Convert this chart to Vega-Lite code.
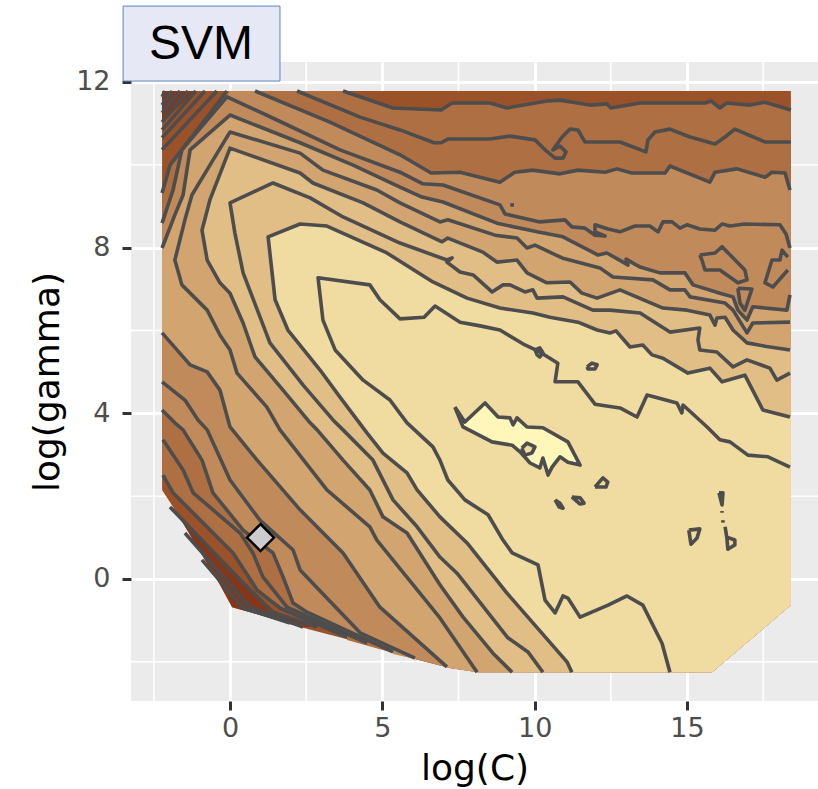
{"$schema":"https://vega.github.io/schema/vega-lite/v6.json","width":687,"height":639,"autosize":"none","padding":{"left":131,"top":62,"right":0,"bottom":88},"background":"white","view":{"fill":"#EBEBEB","stroke":null},
"config":{"axis":{"grid":true,"gridColor":"white","gridWidth":3,"domain":false,"tickColor":"#333333","tickWidth":3,"tickSize":9,"labelColor":"#4D4D4D","labelFont":"DejaVu Sans","labelFontSize":27,"titleFont":"DejaVu Sans","titleFontSize":36,"titleFontWeight":"normal","titleColor":"black"}},
"encoding":{"x":{"field":"x","type":"quantitative","scale":{"domain":[-3.25,19.3],"nice":false,"zero":false},"axis":{"values":[0,5,10,15],"title":"log(C)","labelPadding":5,"titlePadding":10}},"y":{"field":"y","type":"quantitative","scale":{"domain":[-2.945,12.48],"nice":false,"zero":false},"axis":{"values":[0,4,8,12],"title":"log(gamma)","labelPadding":12,"titlePadding":9}}},
"datasets":{"contours":[
{"p":"P0","s":"e","x":-2.23,"y":11.78},{"p":"P0","s":"e","x":18.41,"y":11.78},{"p":"P0","s":"e","x":18.41,"y":-0.63},{"p":"P0","s":"e","x":15.82,"y":-2.25},{"p":"P0","s":"e","x":8.14,"y":-2.25},{"p":"P0","s":"e","x":7.22,"y":-2.15},{"p":"P0","s":"e","x":6.07,"y":-1.93},{"p":"P0","s":"e","x":3.94,"y":-1.47},{"p":"P0","s":"e","x":2.3,"y":-1.16},{"p":"P0","s":"e","x":0.66,"y":-0.8},{"p":"P0","s":"e","x":0.07,"y":-0.68},{"p":"P0","s":"e","x":-0.33,"y":-0.14},{"p":"P0","s":"e","x":-0.82,"y":0.46},{"p":"P0","s":"e","x":-1.31,"y":1.06},{"p":"P0","s":"e","x":-1.81,"y":1.67},{"p":"P0","s":"e","x":-2.23,"y":2.15},
{"p":"H","s":"e","x":-2.23,"y":11.78},{"p":"H","s":"e","x":-1.12,"y":11.78},{"p":"H","s":"e","x":-2.23,"y":11.03},
{"p":"P10","s":"C10","x":3.71,"y":11.78},{"p":"P10","s":"C10","x":5.35,"y":11.37},{"p":"P10","s":"C10","x":6.93,"y":11.32},{"p":"P10","s":"C10","x":7.29,"y":11.49},{"p":"P10","s":"C10","x":8.53,"y":11.49},{"p":"P10","s":"C10","x":9.09,"y":11.37},{"p":"P10","s":"C10","x":10.4,"y":11.54},{"p":"P10","s":"C10","x":10.83,"y":11.56},{"p":"P10","s":"C10","x":11.82,"y":11.44},{"p":"P10","s":"C10","x":12.37,"y":11.47},{"p":"P10","s":"C10","x":12.5,"y":11.37},{"p":"P10","s":"C10","x":13.46,"y":11.49},{"p":"P10","s":"C10","x":15.59,"y":11.49},{"p":"P10","s":"C10","x":15.79,"y":11.54},{"p":"P10","s":"C10","x":16.08,"y":11.37},{"p":"P10","s":"C10","x":16.31,"y":11.49},{"p":"P10","s":"C10","x":17.07,"y":11.44},{"p":"P10","s":"C10","x":17.56,"y":11.51},{"p":"P10","s":"C10","x":18.41,"y":11.32},
{"p":"P10","s":"e","x":18.41,"y":-0.63},{"p":"P10","s":"e","x":15.82,"y":-2.25},{"p":"P10","s":"e","x":8.14,"y":-2.25},{"p":"P10","s":"e","x":7.22,"y":-2.15},{"p":"P10","s":"e","x":6.07,"y":-1.93},{"p":"P10","s":"e","x":3.84,"y":-1.47},
{"p":"P10","s":"C10b","x":3.84,"y":-1.4},{"p":"P10","s":"C10b","x":1.64,"y":-0.7},{"p":"P10","s":"C10b","x":0.89,"y":-0.27},{"p":"P10","s":"C10b","x":0.1,"y":0.63},{"p":"P10","s":"C10b","x":-1.87,"y":2.08},{"p":"P10","s":"C10b","x":-2.2,"y":2.51},
{"p":"P10","s":"e","x":-2.23,"y":2.51},{"p":"P10","s":"e","x":-2.23,"y":9.32},{"p":"P10","s":"e","x":-1.97,"y":9.99},{"p":"P10","s":"e","x":-0.1,"y":11.78},
{"p":"P8","s":"C8","x":0.82,"y":11.78},{"p":"P8","s":"C8","x":3.28,"y":11.03},{"p":"P8","s":"C8","x":5.58,"y":10.24},{"p":"P8","s":"C8","x":6.6,"y":9.8},{"p":"P8","s":"C8","x":7.55,"y":9.82},{"p":"P8","s":"C8","x":8.86,"y":9.58},{"p":"P8","s":"C8","x":9.35,"y":9.82},{"p":"P8","s":"C8","x":9.94,"y":9.87},{"p":"P8","s":"C8","x":10.83,"y":9.78},{"p":"P8","s":"C8","x":11.42,"y":9.87},{"p":"P8","s":"C8","x":12.31,"y":9.82},{"p":"P8","s":"C8","x":12.7,"y":9.9},{"p":"P8","s":"C8","x":13.19,"y":9.8},{"p":"P8","s":"C8","x":14.28,"y":9.8},{"p":"P8","s":"C8","x":14.44,"y":9.97},{"p":"P8","s":"C8","x":15.75,"y":9.58},{"p":"P8","s":"C8","x":15.92,"y":9.82},{"p":"P8","s":"C8","x":16.64,"y":9.9},{"p":"P8","s":"C8","x":17.56,"y":9.7},{"p":"P8","s":"C8","x":17.79,"y":9.82},{"p":"P8","s":"C8","x":18.22,"y":9.8},{"p":"P8","s":"C8","x":18.38,"y":9.39},
{"p":"P8","s":"e","x":18.41,"y":9.39},{"p":"P8","s":"e","x":18.41,"y":-0.63},{"p":"P8","s":"e","x":15.82,"y":-2.25},{"p":"P8","s":"e","x":8.14,"y":-2.25},{"p":"P8","s":"e","x":7.22,"y":-2.15},{"p":"P8","s":"e","x":6.07,"y":-1.93},{"p":"P8","s":"e","x":5.35,"y":-1.81},
{"p":"P8","s":"C8b","x":5.35,"y":-1.76},{"p":"P8","s":"C8b","x":2.53,"y":-0.8},{"p":"P8","s":"C8b","x":2.07,"y":-0.58},{"p":"P8","s":"C8b","x":1.74,"y":0.05},{"p":"P8","s":"C8b","x":1.41,"y":0.63},{"p":"P8","s":"C8b","x":0.43,"y":1.18},{"p":"P8","s":"C8b","x":-0.56,"y":2.08},{"p":"P8","s":"C8b","x":-0.92,"y":2.87},{"p":"P8","s":"C8b","x":-1.54,"y":3.6},{"p":"P8","s":"C8b","x":-1.81,"y":3.77},{"p":"P8","s":"C8b","x":-2.23,"y":4.08},
{"p":"P8","s":"e","x":-2.23,"y":8.59},{"p":"P8","s":"e","x":-1.87,"y":9.39},{"p":"P8","s":"e","x":-1.58,"y":10.36},{"p":"P8","s":"e","x":-0.1,"y":11.64},{"p":"P8","s":"e","x":0,"y":11.78},
{"p":"P6","s":"C6","x":-2.23,"y":7.99},{"p":"P6","s":"C6","x":-1.81,"y":8.79},{"p":"P6","s":"C6","x":-1.54,"y":9.27},{"p":"P6","s":"C6","x":-1.31,"y":10.36},{"p":"P6","s":"C6","x":0,"y":11.2},{"p":"P6","s":"C6","x":2.3,"y":10.53},{"p":"P6","s":"C6","x":4.04,"y":9.99},{"p":"P6","s":"C6","x":5.58,"y":9.46},{"p":"P6","s":"C6","x":6.3,"y":9.22},{"p":"P6","s":"C6","x":6.99,"y":9.1},{"p":"P6","s":"C6","x":8.76,"y":8.59},{"p":"P6","s":"C6","x":10.08,"y":8.38},{"p":"P6","s":"C6","x":10.93,"y":8.26},{"p":"P6","s":"C6","x":12.08,"y":7.82},{"p":"P6","s":"C6","x":12.37,"y":7.87},{"p":"P6","s":"C6","x":12.9,"y":7.65},{"p":"P6","s":"C6","x":13.06,"y":7.58},{"p":"P6","s":"C6","x":13,"y":7.72},{"p":"P6","s":"C6","x":13.46,"y":7.53},{"p":"P6","s":"C6","x":14.11,"y":7.39},{"p":"P6","s":"C6","x":14.93,"y":7.39},{"p":"P6","s":"C6","x":15.2,"y":7.1},{"p":"P6","s":"C6","x":16.08,"y":6.9},{"p":"P6","s":"C6","x":16.51,"y":6.81},{"p":"P6","s":"C6","x":16.67,"y":6.49},{"p":"P6","s":"C6","x":16.97,"y":6.25},{"p":"P6","s":"C6","x":17.16,"y":6.57},{"p":"P6","s":"C6","x":18.28,"y":6.49},{"p":"P6","s":"C6","x":18.38,"y":6.86},
{"p":"P6","s":"e","x":18.41,"y":6.86},{"p":"P6","s":"e","x":18.41,"y":-0.63},{"p":"P6","s":"e","x":15.82,"y":-2.25},{"p":"P6","s":"e","x":8.14,"y":-2.25},{"p":"P6","s":"e","x":7.22,"y":-2.15},
{"p":"P6","s":"C6b","x":7.12,"y":-2.12},{"p":"P6","s":"C6b","x":4.92,"y":-0.68},{"p":"P6","s":"C6b","x":3.71,"y":0.63},{"p":"P6","s":"C6b","x":2.3,"y":1.67},{"p":"P6","s":"C6b","x":0.89,"y":2.87},{"p":"P6","s":"C6b","x":0,"y":3.67},{"p":"P6","s":"C6b","x":-0.33,"y":4.56},{"p":"P6","s":"C6b","x":-0.75,"y":5},{"p":"P6","s":"C6b","x":-1.31,"y":5.17},{"p":"P6","s":"C6b","x":-2.23,"y":5.94},
{"p":"P4","s":"C4","x":9.26,"y":-2.25},{"p":"P4","s":"C4","x":8.63,"y":-1.79},{"p":"P4","s":"C4","x":7.65,"y":-0.92},{"p":"P4","s":"C4","x":6.89,"y":-0.14},{"p":"P4","s":"C4","x":5.81,"y":1.11},{"p":"P4","s":"C4","x":5.02,"y":1.5},{"p":"P4","s":"C4","x":4.59,"y":2.15},{"p":"P4","s":"C4","x":3.71,"y":2.87},{"p":"P4","s":"C4","x":2.86,"y":3.6},{"p":"P4","s":"C4","x":2.63,"y":3.77},{"p":"P4","s":"C4","x":1.74,"y":4.56},{"p":"P4","s":"C4","x":0.82,"y":5.36},{"p":"P4","s":"C4","x":0.43,"y":6.18},{"p":"P4","s":"C4","x":0,"y":6.9},{"p":"P4","s":"C4","x":-0.33,"y":7.15},{"p":"P4","s":"C4","x":-0.75,"y":7.7},{"p":"P4","s":"C4","x":-0.92,"y":8.42},{"p":"P4","s":"C4","x":-0.66,"y":9.15},{"p":"P4","s":"C4","x":0,"y":10.4},{"p":"P4","s":"C4","x":2.3,"y":9.8},{"p":"P4","s":"C4","x":2.72,"y":9.56},{"p":"P4","s":"C4","x":4.37,"y":9.08},{"p":"P4","s":"C4","x":5.58,"y":8.62},{"p":"P4","s":"C4","x":6.96,"y":8.14},{"p":"P4","s":"C4","x":7.15,"y":8.23},{"p":"P4","s":"C4","x":8.3,"y":7.89},{"p":"P4","s":"C4","x":8.76,"y":7.65},{"p":"P4","s":"C4","x":9.42,"y":7.7},{"p":"P4","s":"C4","x":9.75,"y":7.39},{"p":"P4","s":"C4","x":10.4,"y":7.15},{"p":"P4","s":"C4","x":11.16,"y":7.17},{"p":"P4","s":"C4","x":11.55,"y":6.9},{"p":"P4","s":"C4","x":12.05,"y":6.78},{"p":"P4","s":"C4","x":12.8,"y":6.98},{"p":"P4","s":"C4","x":14.21,"y":6.54},{"p":"P4","s":"C4","x":15,"y":6.49},{"p":"P4","s":"C4","x":15.75,"y":6.37},{"p":"P4","s":"C4","x":15.92,"y":6.13},{"p":"P4","s":"C4","x":15.98,"y":6.3},{"p":"P4","s":"C4","x":16.25,"y":6.32},{"p":"P4","s":"C4","x":16.51,"y":6.01},{"p":"P4","s":"C4","x":16.97,"y":5.7},{"p":"P4","s":"C4","x":17.56,"y":5.62},{"p":"P4","s":"C4","x":18.38,"y":5.53},
{"p":"P4","s":"e","x":18.41,"y":5.53},{"p":"P4","s":"e","x":18.41,"y":-0.63},{"p":"P4","s":"e","x":15.82,"y":-2.25},
{"p":"P2","s":"C2","x":11.22,"y":-2.25},{"p":"P2","s":"C2","x":11.06,"y":-2},{"p":"P2","s":"C2","x":9.09,"y":-0.34},{"p":"P2","s":"C2","x":7.78,"y":0.87},{"p":"P2","s":"C2","x":6.89,"y":1.5},{"p":"P2","s":"C2","x":6.14,"y":2.15},{"p":"P2","s":"C2","x":5.81,"y":2.56},{"p":"P2","s":"C2","x":5.02,"y":3.04},{"p":"P2","s":"C2","x":4.5,"y":3.52},{"p":"P2","s":"C2","x":3.61,"y":4.39},{"p":"P2","s":"C2","x":2.95,"y":5.05},{"p":"P2","s":"C2","x":1.9,"y":6.01},{"p":"P2","s":"C2","x":1.48,"y":6.74},{"p":"P2","s":"C2","x":1.25,"y":8.26},{"p":"P2","s":"C2","x":2.3,"y":8.57},{"p":"P2","s":"C2","x":3.18,"y":8.52},{"p":"P2","s":"C2","x":5.15,"y":7.87},{"p":"P2","s":"C2","x":6.66,"y":7.17},{"p":"P2","s":"C2","x":7.78,"y":6.78},{"p":"P2","s":"C2","x":8.86,"y":6.54},{"p":"P2","s":"C2","x":9.94,"y":6.42},{"p":"P2","s":"C2","x":10.5,"y":6.32},{"p":"P2","s":"C2","x":11.42,"y":6.2},{"p":"P2","s":"C2","x":12.05,"y":6.01},{"p":"P2","s":"C2","x":12.47,"y":5.94},{"p":"P2","s":"C2","x":12.67,"y":5.99},{"p":"P2","s":"C2","x":13.13,"y":5.6},{"p":"P2","s":"C2","x":13.55,"y":5.65},{"p":"P2","s":"C2","x":13.85,"y":5.41},{"p":"P2","s":"C2","x":14.21,"y":5.33},{"p":"P2","s":"C2","x":15.03,"y":4.97},{"p":"P2","s":"C2","x":15.75,"y":5.09},{"p":"P2","s":"C2","x":16.15,"y":4.76},{"p":"P2","s":"C2","x":16.9,"y":4.92},{"p":"P2","s":"C2","x":17.49,"y":4.08},{"p":"P2","s":"C2","x":18.38,"y":3.91},
{"p":"P2","s":"e","x":18.41,"y":3.91},{"p":"P2","s":"e","x":18.41,"y":-0.63},{"p":"P2","s":"e","x":15.82,"y":-2.25},
{"p":"Dk","s":"C11","x":-1.97,"y":1.74},{"p":"Dk","s":"C11","x":0.33,"y":-0.02},{"p":"Dk","s":"C11","x":1.41,"y":-0.8},{"p":"Dk","s":"C11","x":2.86,"y":-1.16},
{"p":"Dk","s":"e","x":2.3,"y":-1.16},{"p":"Dk","s":"e","x":0.66,"y":-0.8},{"p":"Dk","s":"e","x":0.07,"y":-0.68},{"p":"Dk","s":"e","x":-0.33,"y":-0.14},{"p":"Dk","s":"e","x":-0.82,"y":0.46},{"p":"Dk","s":"e","x":-1.31,"y":1.06},{"p":"Dk","s":"e","x":-1.81,"y":1.67},
{"p":"I0","s":"C0","x":7.38,"y":4.15},{"p":"I0","s":"C0","x":7.71,"y":3.79},{"p":"I0","s":"C0","x":8.37,"y":4.25},{"p":"I0","s":"C0","x":8.8,"y":3.91},{"p":"I0","s":"C0","x":9.19,"y":3.89},{"p":"I0","s":"C0","x":9.29,"y":3.72},{"p":"I0","s":"C0","x":9.42,"y":3.89},{"p":"I0","s":"C0","x":9.75,"y":3.67},{"p":"I0","s":"C0","x":10.27,"y":3.65},{"p":"I0","s":"C0","x":11.09,"y":3.31},{"p":"I0","s":"C0","x":11.49,"y":2.75},{"p":"I0","s":"C0","x":11.09,"y":2.82},{"p":"I0","s":"C0","x":10.83,"y":2.95},{"p":"I0","s":"C0","x":10.57,"y":2.7},{"p":"I0","s":"C0","x":10.44,"y":2.51},{"p":"I0","s":"C0","x":10.27,"y":2.92},{"p":"I0","s":"C0","x":10.17,"y":2.68},{"p":"I0","s":"C0","x":9.85,"y":2.8},{"p":"I0","s":"C0","x":9.52,"y":3.07},{"p":"I0","s":"C0","x":9.26,"y":3.23},{"p":"I0","s":"C0","x":8.6,"y":3.31},{"p":"I0","s":"C0","x":7.65,"y":3.67},{"p":"I0","s":"C0","x":7.38,"y":4.15},
{"p":"I1","s":"C0i","x":9.58,"y":3.16},{"p":"I1","s":"C0i","x":9.75,"y":3.28},{"p":"I1","s":"C0i","x":10.01,"y":3.19},{"p":"I1","s":"C0i","x":9.91,"y":3.04},{"p":"I1","s":"C0i","x":9.68,"y":2.99},{"p":"I1","s":"C0i","x":9.58,"y":3.16},
{"p":"none","s":"C1","x":14.44,"y":-2.25},{"p":"none","s":"C1","x":14.18,"y":-1.55},{"p":"none","s":"C1","x":13.55,"y":-0.63},{"p":"none","s":"C1","x":13.03,"y":-0.41},{"p":"none","s":"C1","x":12.41,"y":-0.63},{"p":"none","s":"C1","x":11.49,"y":-0.92},{"p":"none","s":"C1","x":11.09,"y":-0.46},{"p":"none","s":"C1","x":10.93,"y":-0.41},{"p":"none","s":"C1","x":10.67,"y":-0.82},{"p":"none","s":"C1","x":10.34,"y":-0.51},{"p":"none","s":"C1","x":10.11,"y":0.34},{"p":"none","s":"C1","x":9.26,"y":0.63},{"p":"none","s":"C1","x":8.96,"y":0.94},{"p":"none","s":"C1","x":8.47,"y":1.55},{"p":"none","s":"C1","x":7.71,"y":1.91},{"p":"none","s":"C1","x":7.15,"y":2.39},{"p":"none","s":"C1","x":6.89,"y":2.87},{"p":"none","s":"C1","x":6.66,"y":3.19},{"p":"none","s":"C1","x":5.81,"y":3.77},{"p":"none","s":"C1","x":5.25,"y":4.32},{"p":"none","s":"C1","x":4.37,"y":4.8},{"p":"none","s":"C1","x":3.45,"y":5.53},{"p":"none","s":"C1","x":3.05,"y":6.25},{"p":"none","s":"C1","x":2.89,"y":7.27},{"p":"none","s":"C1","x":4.59,"y":7.1},{"p":"none","s":"C1","x":4.92,"y":6.74},{"p":"none","s":"C1","x":5.58,"y":6.28},{"p":"none","s":"C1","x":6.37,"y":6.32},{"p":"none","s":"C1","x":6.73,"y":6.59},{"p":"none","s":"C1","x":7.55,"y":6.2},{"p":"none","s":"C1","x":8.21,"y":6.11},{"p":"none","s":"C1","x":8.86,"y":6.01},{"p":"none","s":"C1","x":9.68,"y":5.65},{"p":"none","s":"C1","x":10.17,"y":5.48},{"p":"none","s":"C1","x":10.76,"y":5.21},{"p":"none","s":"C1","x":10.67,"y":4.76},{"p":"none","s":"C1","x":11.42,"y":4.76},{"p":"none","s":"C1","x":11.98,"y":4.22},{"p":"none","s":"C1","x":12.8,"y":4.13},{"p":"none","s":"C1","x":13.36,"y":3.91},{"p":"none","s":"C1","x":13.69,"y":4.44},{"p":"none","s":"C1","x":14.67,"y":4.25},{"p":"none","s":"C1","x":14.83,"y":4.01},{"p":"none","s":"C1","x":14.87,"y":4.2},{"p":"none","s":"C1","x":15.66,"y":3.67},{"p":"none","s":"C1","x":16.08,"y":3.36},{"p":"none","s":"C1","x":16.41,"y":3.31},{"p":"none","s":"C1","x":17,"y":2.99},{"p":"none","s":"C1","x":17.66,"y":2.95},{"p":"none","s":"C1","x":18.38,"y":2.7},
{"p":"none","s":"C3","x":10.27,"y":-2.25},{"p":"none","s":"C3","x":9.78,"y":-1.76},{"p":"none","s":"C3","x":9.12,"y":-1.42},{"p":"none","s":"C3","x":7.45,"y":0.14},{"p":"none","s":"C3","x":6.89,"y":0.53},{"p":"none","s":"C3","x":6.14,"y":1.26},{"p":"none","s":"C3","x":5.35,"y":1.91},{"p":"none","s":"C3","x":4.69,"y":2.87},{"p":"none","s":"C3","x":3.71,"y":3.6},{"p":"none","s":"C3","x":3.38,"y":3.84},{"p":"none","s":"C3","x":2.4,"y":4.68},{"p":"none","s":"C3","x":1.31,"y":5.7},{"p":"none","s":"C3","x":0.43,"y":7.39},{"p":"none","s":"C3","x":0.16,"y":8.35},{"p":"none","s":"C3","x":0,"y":9.08},{"p":"none","s":"C3","x":1.41,"y":9.56},{"p":"none","s":"C3","x":2.63,"y":9.2},{"p":"none","s":"C3","x":3.71,"y":8.74},{"p":"none","s":"C3","x":5.58,"y":8.11},{"p":"none","s":"C3","x":7.12,"y":7.7},{"p":"none","s":"C3","x":7.29,"y":7.75},{"p":"none","s":"C3","x":7.12,"y":7.65},{"p":"none","s":"C3","x":7.55,"y":7.41},{"p":"none","s":"C3","x":7.98,"y":7.34},{"p":"none","s":"C3","x":8.6,"y":6.93},{"p":"none","s":"C3","x":8.96,"y":7.1},{"p":"none","s":"C3","x":9.19,"y":7.1},{"p":"none","s":"C3","x":9.68,"y":6.93},{"p":"none","s":"C3","x":9.94,"y":6.98},{"p":"none","s":"C3","x":10.08,"y":6.78},{"p":"none","s":"C3","x":10.93,"y":6.81},{"p":"none","s":"C3","x":11.91,"y":6.49},{"p":"none","s":"C3","x":12.47,"y":6.49},{"p":"none","s":"C3","x":13.46,"y":6.42},{"p":"none","s":"C3","x":14.44,"y":5.96},{"p":"none","s":"C3","x":15.42,"y":6.06},{"p":"none","s":"C3","x":15.36,"y":5.77},{"p":"none","s":"C3","x":15.42,"y":5.53},{"p":"none","s":"C3","x":15.98,"y":5.48},{"p":"none","s":"C3","x":16.51,"y":5.12},{"p":"none","s":"C3","x":16.97,"y":5.29},{"p":"none","s":"C3","x":17.72,"y":5.09},{"p":"none","s":"C3","x":17.95,"y":4.8},{"p":"none","s":"C3","x":18.38,"y":4.97},
{"p":"none","s":"C5","x":8.11,"y":-2.25},{"p":"none","s":"C5","x":6.89,"y":-0.94},{"p":"none","s":"C5","x":4.82,"y":0.94},{"p":"none","s":"C5","x":4.59,"y":1.26},{"p":"none","s":"C5","x":3.18,"y":2.15},{"p":"none","s":"C5","x":1.64,"y":3.6},{"p":"none","s":"C5","x":1.21,"y":4.15},{"p":"none","s":"C5","x":0.23,"y":4.97},{"p":"none","s":"C5","x":0,"y":5.53},{"p":"none","s":"C5","x":-0.33,"y":5.89},{"p":"none","s":"C5","x":-0.75,"y":6.49},{"p":"none","s":"C5","x":-1.58,"y":7.1},{"p":"none","s":"C5","x":-1.81,"y":7.7},{"p":"none","s":"C5","x":-1.48,"y":8.67},{"p":"none","s":"C5","x":-1.25,"y":9.27},{"p":"none","s":"C5","x":-0.56,"y":10.11},{"p":"none","s":"C5","x":0,"y":10.79},{"p":"none","s":"C5","x":2.3,"y":10.28},{"p":"none","s":"C5","x":3.05,"y":9.87},{"p":"none","s":"C5","x":4.82,"y":9.39},{"p":"none","s":"C5","x":5.58,"y":9.08},{"p":"none","s":"C5","x":6.89,"y":8.62},{"p":"none","s":"C5","x":7.15,"y":8.67},{"p":"none","s":"C5","x":8.7,"y":8.3},{"p":"none","s":"C5","x":9.42,"y":8.23},{"p":"none","s":"C5","x":9.75,"y":7.99},{"p":"none","s":"C5","x":10.01,"y":8.06},{"p":"none","s":"C5","x":10.9,"y":7.75},{"p":"none","s":"C5","x":12.14,"y":7.51},{"p":"none","s":"C5","x":12.57,"y":7.29},{"p":"none","s":"C5","x":13.88,"y":7.22},{"p":"none","s":"C5","x":14.44,"y":6.98},{"p":"none","s":"C5","x":14.93,"y":6.98},{"p":"none","s":"C5","x":15.1,"y":6.81},{"p":"none","s":"C5","x":16.25,"y":6.66},{"p":"none","s":"C5","x":16.51,"y":6.49},{"p":"none","s":"C5","x":16.97,"y":5.94},{"p":"none","s":"C5","x":17.16,"y":6.18},{"p":"none","s":"C5","x":18.38,"y":6.2},
{"p":"none","s":"C7","x":-2.23,"y":8.59},{"p":"none","s":"C7","x":-1.87,"y":9.39},{"p":"none","s":"C7","x":-1.58,"y":10.36},{"p":"none","s":"C7","x":-0.1,"y":11.64},{"p":"none","s":"C7","x":1.54,"y":11.08},{"p":"none","s":"C7","x":3.61,"y":10.36},{"p":"none","s":"C7","x":5.58,"y":9.82},{"p":"none","s":"C7","x":6.33,"y":9.54},{"p":"none","s":"C7","x":6.99,"y":9.51},{"p":"none","s":"C7","x":8.86,"y":9.03},{"p":"none","s":"C7","x":9.03,"y":8.81},{"p":"none","s":"C7","x":10.17,"y":8.62},{"p":"none","s":"C7","x":10.99,"y":8.67},{"p":"none","s":"C7","x":11.22,"y":8.5},{"p":"none","s":"C7","x":11.65,"y":8.47},{"p":"none","s":"C7","x":11.98,"y":8.3},{"p":"none","s":"C7","x":12.31,"y":8.28},{"p":"none","s":"C7","x":11.98,"y":8.38},{"p":"none","s":"C7","x":11.98,"y":8.55},{"p":"none","s":"C7","x":12.41,"y":8.45},{"p":"none","s":"C7","x":12.8,"y":8.38},{"p":"none","s":"C7","x":13.29,"y":8.52},{"p":"none","s":"C7","x":13.78,"y":8.52},{"p":"none","s":"C7","x":14.05,"y":8.38},{"p":"none","s":"C7","x":14.21,"y":8.62},{"p":"none","s":"C7","x":14.51,"y":8.62},{"p":"none","s":"C7","x":14.77,"y":8.47},{"p":"none","s":"C7","x":15,"y":8.55},{"p":"none","s":"C7","x":15.42,"y":8.45},{"p":"none","s":"C7","x":15.92,"y":8.42},{"p":"none","s":"C7","x":16.15,"y":8.57},{"p":"none","s":"C7","x":16.41,"y":8.52},{"p":"none","s":"C7","x":16.9,"y":8.57},{"p":"none","s":"C7","x":18.05,"y":8.55},{"p":"none","s":"C7","x":18.25,"y":8.33},{"p":"none","s":"C7","x":18.38,"y":7.99},
{"p":"none","s":"C7b","x":-2.23,"y":4.76},{"p":"none","s":"C7b","x":-1.48,"y":4.32},{"p":"none","s":"C7b","x":-1.05,"y":3.84},{"p":"none","s":"C7b","x":-0.75,"y":3.6},{"p":"none","s":"C7b","x":0,"y":2.39},{"p":"none","s":"C7b","x":0.98,"y":1.42},{"p":"none","s":"C7b","x":2.07,"y":0.7},{"p":"none","s":"C7b","x":2.3,"y":0.22},{"p":"none","s":"C7b","x":4.27,"y":-1.3},{"p":"none","s":"C7b","x":6.07,"y":-1.91},
{"p":"none","s":"C9","x":2.2,"y":11.78},{"p":"none","s":"C9","x":4.27,"y":11.15},{"p":"none","s":"C9","x":5.58,"y":10.84},{"p":"none","s":"C9","x":6.7,"y":10.53},{"p":"none","s":"C9","x":6.93,"y":10.53},{"p":"none","s":"C9","x":7.15,"y":10.62},{"p":"none","s":"C9","x":8.53,"y":10.62},{"p":"none","s":"C9","x":9.19,"y":10.69},{"p":"none","s":"C9","x":10.01,"y":10.6},{"p":"none","s":"C9","x":10.34,"y":10.36},{"p":"none","s":"C9","x":10.67,"y":10.16},{"p":"none","s":"C9","x":10.93,"y":10.16},{"p":"none","s":"C9","x":11.03,"y":10.31},{"p":"none","s":"C9","x":10.83,"y":10.45},{"p":"none","s":"C9","x":10.6,"y":10.36},{"p":"none","s":"C9","x":10.9,"y":10.67},{"p":"none","s":"C9","x":11.16,"y":10.86},{"p":"none","s":"C9","x":11.42,"y":10.84},{"p":"none","s":"C9","x":11.65,"y":10.55},{"p":"none","s":"C9","x":12.8,"y":10.55},{"p":"none","s":"C9","x":13.65,"y":10.31},{"p":"none","s":"C9","x":13.72,"y":10.6},{"p":"none","s":"C9","x":13.95,"y":10.79},{"p":"none","s":"C9","x":14.44,"y":10.86},{"p":"none","s":"C9","x":15.1,"y":10.67},{"p":"none","s":"C9","x":15.92,"y":10.5},{"p":"none","s":"C9","x":16.25,"y":10.67},{"p":"none","s":"C9","x":16.57,"y":10.86},{"p":"none","s":"C9","x":17.56,"y":10.55},{"p":"none","s":"C9","x":18.41,"y":10.55},
{"p":"none","s":"C9b","x":-2.2,"y":3.36},{"p":"none","s":"C9b","x":-1.54,"y":2.63},{"p":"none","s":"C9b","x":-1.21,"y":2.08},{"p":"none","s":"C9b","x":0.33,"y":1.11},{"p":"none","s":"C9b","x":0.75,"y":0.63},{"p":"none","s":"C9b","x":1.08,"y":0.05},{"p":"none","s":"C9b","x":1.87,"y":-0.68},{"p":"none","s":"C9b","x":2.3,"y":-0.82},{"p":"none","s":"C9b","x":4.5,"y":-1.55},
{"p":"none","s":"C12","x":-1.48,"y":1.11},{"p":"none","s":"C12","x":0.66,"y":-0.68},{"p":"none","s":"C12","x":2.4,"y":-1.16},
{"p":"none","s":"C13","x":-0.92,"y":0.46},{"p":"none","s":"C13","x":0.43,"y":-0.7},{"p":"none","s":"C13","x":1.97,"y":-1.06},
{"p":"none","s":"H1","x":-2.13,"y":11.78},{"p":"none","s":"H1","x":-2.23,"y":11.64},{"p":"none","s":"H2","x":-1.9,"y":11.78},{"p":"none","s":"H2","x":-2.23,"y":11.44},{"p":"none","s":"H3","x":-1.64,"y":11.78},{"p":"none","s":"H3","x":-2.23,"y":11.25},{"p":"none","s":"H4","x":-1.38,"y":11.78},{"p":"none","s":"H4","x":-2.23,"y":11.03},{"p":"none","s":"H5","x":-1.12,"y":11.78},{"p":"none","s":"H5","x":-2.23,"y":10.84},{"p":"none","s":"H6","x":-0.82,"y":11.78},{"p":"none","s":"H6","x":-2.23,"y":10.65},{"p":"none","s":"H7","x":-0.43,"y":11.78},{"p":"none","s":"H7","x":-2.23,"y":10.36},{"p":"none","s":"H8","x":-0.1,"y":11.78},{"p":"none","s":"H8","x":-1.97,"y":9.99},{"p":"none","s":"H8","x":-2.23,"y":9.32},
{"p":"none","s":"A","x":15.42,"y":7.82},{"p":"none","s":"A","x":15.92,"y":7.87},{"p":"none","s":"A","x":16.15,"y":8.02},{"p":"none","s":"A","x":16.9,"y":7.46},{"p":"none","s":"A","x":16.97,"y":7.22},{"p":"none","s":"A","x":16.67,"y":7.15},{"p":"none","s":"A","x":16.08,"y":7.46},{"p":"none","s":"A","x":15.59,"y":7.46},{"p":"none","s":"A","x":15.49,"y":7.7},{"p":"none","s":"A","x":15.42,"y":7.82},
{"p":"none","s":"T","x":16.67,"y":7.02},{"p":"none","s":"T","x":17.13,"y":7},{"p":"none","s":"T","x":16.9,"y":6.49},{"p":"none","s":"T","x":16.74,"y":6.66},{"p":"none","s":"T","x":16.67,"y":7.02},
{"p":"none","s":"R","x":18.31,"y":7.77},{"p":"none","s":"R","x":18.12,"y":7.94},{"p":"none","s":"R","x":18.05,"y":7.7},{"p":"none","s":"R","x":17.79,"y":7.7},{"p":"none","s":"R","x":17.56,"y":7.15},{"p":"none","s":"R","x":17.82,"y":7.05},{"p":"none","s":"R","x":18.31,"y":7.46},
{"p":"none","s":"b0","x":9.2,"y":9.03},{"p":"none","s":"b0","x":9.32,"y":9.03},
{"p":"none","s":"b1","x":10.01,"y":5.53},{"p":"none","s":"b1","x":10.17,"y":5.58},{"p":"none","s":"b1","x":10.27,"y":5.46},{"p":"none","s":"b1","x":10.17,"y":5.36},{"p":"none","s":"b1","x":10.08,"y":5.41},{"p":"none","s":"b1","x":10.01,"y":5.53},
{"p":"none","s":"a","x":11.98,"y":2.22},{"p":"none","s":"a","x":12.24,"y":2.44},{"p":"none","s":"a","x":12.4,"y":2.34},{"p":"none","s":"a","x":12.34,"y":2.22},{"p":"none","s":"a","x":11.98,"y":2.22},
{"p":"none","s":"b","x":11.22,"y":1.98},{"p":"none","s":"b","x":11.49,"y":1.96},{"p":"none","s":"b","x":11.62,"y":1.83},{"p":"none","s":"b","x":11.49,"y":1.81},{"p":"none","s":"b","x":11.22,"y":1.98},
{"p":"none","s":"c","x":10.67,"y":1.91},{"p":"none","s":"c","x":10.83,"y":1.83},{"p":"none","s":"c","x":10.93,"y":1.71},{"p":"none","s":"c","x":10.8,"y":1.74},{"p":"none","s":"c","x":10.67,"y":1.91},
{"p":"none","s":"d","x":11.72,"y":5.12},{"p":"none","s":"d","x":11.88,"y":5.21},{"p":"none","s":"d","x":12.05,"y":5.17},{"p":"none","s":"d","x":11.98,"y":5.07},{"p":"none","s":"d","x":11.75,"y":5.07},{"p":"none","s":"d","x":11.72,"y":5.12},
{"p":"none","s":"f","x":15.06,"y":1.18},{"p":"none","s":"f","x":15.42,"y":1.21},{"p":"none","s":"f","x":15.33,"y":0.99},{"p":"none","s":"f","x":15.13,"y":0.84},{"p":"none","s":"f","x":15.06,"y":1.18},
{"p":"none","s":"g","x":16.05,"y":2.08},{"p":"none","s":"g","x":16.18,"y":2.08},{"p":"none","s":"g","x":16.15,"y":1.79},{"p":"none","s":"g","x":16.05,"y":2.08},
{"p":"none","s":"g1","x":16.15,"y":1.64},{"p":"none","s":"g1","x":16.15,"y":1.6},{"p":"none","s":"g2","x":16.18,"y":1.42},{"p":"none","s":"g2","x":16.18,"y":1.36},
{"p":"none","s":"h","x":16.25,"y":1.26},{"p":"none","s":"h","x":16.31,"y":0.99},{"p":"none","s":"h","x":16.34,"y":0.72},{"p":"none","s":"h","x":16.57,"y":0.82},{"p":"none","s":"h","x":16.57,"y":0.94},{"p":"none","s":"h","x":16.31,"y":1.01}
]},
"layer":[
{"data":{"values":[{"x":-2.5,"y":-2.945,"y2":12.48},{"x":2.5,"y":-2.945,"y2":12.48},{"x":7.5,"y":-2.945,"y2":12.48},{"x":12.5,"y":-2.945,"y2":12.48},{"x":17.5,"y":-2.945,"y2":12.48}]},"mark":{"type":"rule","color":"white","strokeWidth":1.5},"encoding":{"y2":{"field":"y2"}}},
{"data":{"values":[{"y":-2,"x":-3.25,"x2":19.3},{"y":2,"x":-3.25,"x2":19.3},{"y":6,"x":-3.25,"x2":19.3},{"y":10,"x":-3.25,"x2":19.3}]},"mark":{"type":"rule","color":"white","strokeWidth":1.5},"encoding":{"x2":{"field":"x2"}}},
{"data":{"name":"contours"},"transform":[{"filter":"datum.p !== 'none'"},{"window":[{"op":"row_number","as":"i"}]}],"mark":{"type":"line","strokeWidth":0},"encoding":{"order":{"field":"i","type":"quantitative"},"fill":{"field":"p","type":"nominal","legend":null,"scale":{"domain":["P0","H","P10","P8","P6","P4","P2","Dk","I0","I1"],"range":["#9B5229","#85371A","#AE6F42","#C08A5B","#D2A570","#E1BE85","#F0DBA0","#85371A","#FEF7B9","#F0DBA0"]}}}},
{"data":{"name":"contours"},"transform":[{"filter":"datum.s !== 'e'"},{"window":[{"op":"row_number","as":"i"}]}],"mark":{"type":"line","stroke":"#4D4D4D","strokeWidth":3.6,"strokeJoin":"round","strokeCap":"butt"},"encoding":{"order":{"field":"i","type":"quantitative"},"detail":{"field":"s","type":"nominal"}}},
{"data":{"values":[{"x":1,"y":1}]},"mark":{"type":"point","shape":"diamond","filled":true,"fill":"#CCCCCC","stroke":"black","strokeWidth":2.5,"opacity":1,"size":729}},
{"data":{"values":[{"x":-3.51,"x2":1.64,"y":12.02,"y2":13.83}]},"mark":{"type":"rect","fill":"#E6E9F5","stroke":"#5B85C0","strokeWidth":1,"clip":false},"encoding":{"x2":{"field":"x2"},"y2":{"field":"y2"}}},
{"data":{"values":[{"x":-0.95,"y":12.89,"label":"SVM"}]},"mark":{"type":"text","font":"Liberation Sans","fontSize":48,"color":"black","align":"center","baseline":"middle"},"encoding":{"text":{"field":"label"}}}
]}
